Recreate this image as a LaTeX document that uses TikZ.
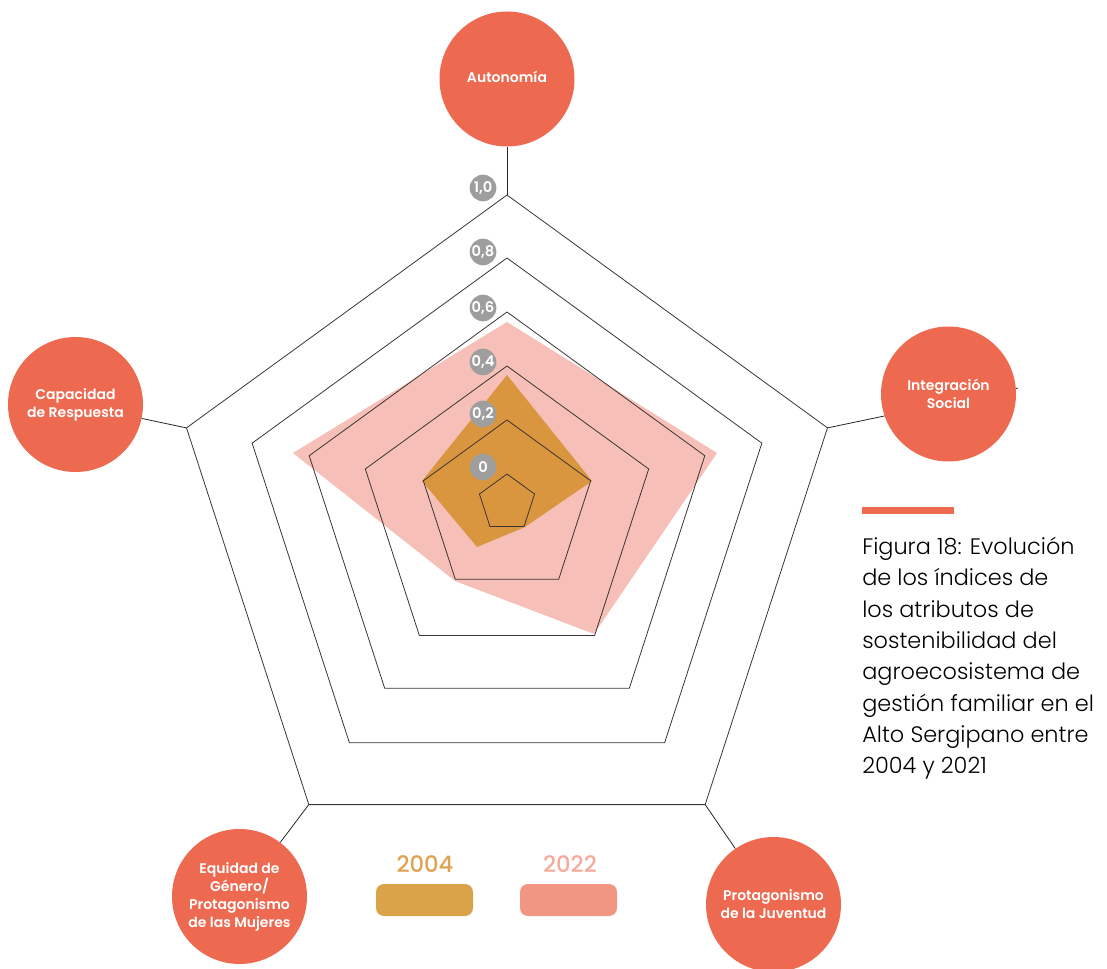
\documentclass[tikz,border=0pt]{standalone}
\usepackage{fontspec}
\setmainfont{Poppins}
\newfontfamily\semib{Poppins SemiBold}
\newfontfamily\medium{Poppins Medium}
\newfontfamily\light{Poppins Light}
\definecolor{circ}{RGB}{237,106,81}
\definecolor{fill04}{RGB}{217,150,62}
\definecolor{fill22}{RGB}{246,191,183}
\definecolor{key04}{RGB}{219,163,73}
\definecolor{key22}{RGB}{242,150,132}
\definecolor{txt04}{RGB}{221,163,80}
\definecolor{txt22}{RGB}{245,170,155}
\definecolor{badgegray}{RGB}{158,158,158}
\definecolor{ringline}{RGB}{60,52,52}

\begin{document}
\begin{tikzpicture}[x=0.75pt,y=0.75pt,yscale=-1,xscale=1,
  ring/.style={draw=ringline,line width=0.6pt,line join=miter},
  axis/.style={draw=black!85,line width=0.6pt},
  attr/.style={circle,fill=circ,text=white,minimum size=101.25pt,inner sep=0pt,align=center,font=\semib\fontsize{10.5}{13.5}\selectfont},
  badge/.style={circle,fill=badgegray,text=white,minimum size=20pt,inner sep=0pt,font=\semib\fontsize{11}{11}\selectfont},
  keybar/.style={rounded corners=6pt,minimum width=72.75pt,minimum height=24pt,inner sep=0pt},
  keytext/.style={anchor=base,inner sep=0pt,font=\medium\fontsize{17}{17}\selectfont}]
\path[use as bounding box] (0,0) rectangle (1107,969);

%Data areas [2022 under 2004]
\fill[fill22] (507,322) -- (717,453) -- (594,634) -- (455,581) -- (293,453) -- cycle;
\fill[fill04] (507,375) -- (592,481) -- (525,527) -- (477,547) -- (422,481) -- cycle;

%Rings 0 .. 1,0
\foreach \r/\cy in {29/503,88/508,149/515,208/520,268/526,337/532}
  \draw[ring] (507,{\cy-\r}) -- ({507+0.951*\r},{\cy-0.309*\r}) -- ({507+0.588*\r},{\cy+0.809*\r})
    -- ({507-0.588*\r},{\cy+0.809*\r}) -- ({507-0.951*\r},{\cy-0.309*\r}) -- cycle;

%Outer vertices
\coordinate (vtop) at (507,195);
\coordinate (vright) at (827.5,427.9);
\coordinate (vbr) at (705.2,804.6);
\coordinate (vbl) at (308.8,804.6);
\coordinate (vleft) at (186.5,427.9);
\coordinate (intend) at (1018,388);

%Straight Lines [behind Integracion]
\draw[axis] (vright) -- (intend);

%Shape: Circle
\node[attr] (aut) at (507,79) {\raisebox{3pt}{Autonomía}};
\node[attr] (cap) at (75.5,404.5) {Capacidad\\de Respuesta};
\node[attr] (int) at (948.5,394) {\raisebox{-2pt}{Integración}\\\raisebox{-2pt}{Social}};
\node[attr] (equ) at (239.5,896.5) {Equidad de\\Género/\\Protagonismo\\de las Mujeres};
\node[attr] (juv) at (773.5,904.5) {Protagonismo\\de la Juventud};

%Straight Lines
\draw[axis] (vtop) -- (aut);
\draw[axis] (vleft) -- (cap);
\draw[axis] (vbl) -- (equ);
\draw[axis] (vbr) -- (juv);

% Text Node
\node[badge] (b10) at (483,188) {1,0};
\node[badge] (b08) at (483,252) {0,8};
\node[badge] (b06) at (483,308) {0,6};
\node[badge] (b04) at (483,362) {0,4};
\node[badge] (b02) at (483,414) {0,2};
\node[badge] (b00) at (483,467) {0};

%Legend
\node[keybar,fill=key04] (bar04) at (424.5,900) {};
\node[keybar,fill=key22] (bar22) at (568.5,900) {};
\node[keytext,text=txt04] (lab04) at (425,872) {2004};
\node[keytext,text=txt22] (lab22) at (570,872) {2022};

%Caption
\fill[circ] (862,507) rectangle (954,514);
\node[anchor=north west,inner sep=0pt,align=left,font=\light\fontsize{16.8}{23.5}\selectfont] (fig) at (862,537)
  {Figura 18: Evolución\\de los índices de\\los atributos de\\sostenibilidad del\\agroecosistema de\\gestión familiar en el\\Alto Sergipano entre\\2004 y 2021};
\end{tikzpicture}
\end{document}
